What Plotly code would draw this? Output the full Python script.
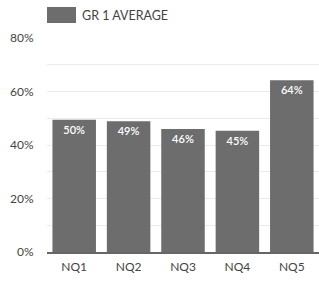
import plotly.graph_objects as go

categories = ["NQ1", "NQ2", "NQ3", "NQ4", "NQ5"]
values = [49.4, 48.9, 46.0, 45.3, 64.2]
labels = ["50%", "49%", "46%", "45%", "64%"]
series_name = "GR 1 AVERAGE"
y_ticks = [0, 20, 40, 60, 80]
y_tick_labels = ["0%", "20%", "40%", "60%", "80%"]

bar_color = "#6d6d6d"
font_family = "Lato, 'Open Sans', sans-serif"

fig = go.Figure()
fig.add_trace(go.Bar(
    x=categories, y=values, text=labels,
    textposition="inside", insidetextanchor="end",
    textfont=dict(color="white", size=11, family=font_family, weight=600),
    marker=dict(color=bar_color, line=dict(width=0)),
    name=series_name, showlegend=False,
    hoverinfo="skip",
))

# legend-style key
fig.add_shape(type="rect", xref="paper", yref="paper",
              xsizemode="pixel", ysizemode="pixel",
              xanchor=0, yanchor=1, x0=0, x1=29, y0=15, y1=31,
              fillcolor=bar_color, line=dict(width=0))
fig.add_annotation(text=series_name, xref="paper", yref="paper",
                   x=0, y=1, xanchor="left", yanchor="middle",
                   xshift=33, yshift=23, showarrow=False,
                   font=dict(size=12.5, color="#444", family=font_family))

fig.update_layout(
    width=319, height=282,
    margin=dict(l=47, r=0, t=38, b=30, autoexpand=False),
    plot_bgcolor="white", paper_bgcolor="white",
    bargap=0.2,
    font=dict(family=font_family, color="#444", size=12),
    xaxis=dict(showline=True, linecolor="#666", linewidth=2, automargin=False,
               showgrid=False, ticks="", ticklabelstandoff=3,
               tickfont=dict(size=12, color="#444")),
    yaxis=dict(range=[0, 80], tickvals=y_ticks, ticktext=y_tick_labels,
               automargin=False,
               showgrid=True, gridcolor="#ebebeb", gridwidth=1,
               zeroline=False, showline=False,
               ticks="outside", ticklen=10, tickcolor="rgba(0,0,0,0)",
               minor=dict(dtick=10, showgrid=True, gridcolor="#ebebeb", gridwidth=1),
               tickfont=dict(size=12, color="#444")),
)

fig.write_html("out.html", config={"displayModeBar": False},
               post_script="document.body.style.margin='0';document.body.style.overflow='hidden';")
